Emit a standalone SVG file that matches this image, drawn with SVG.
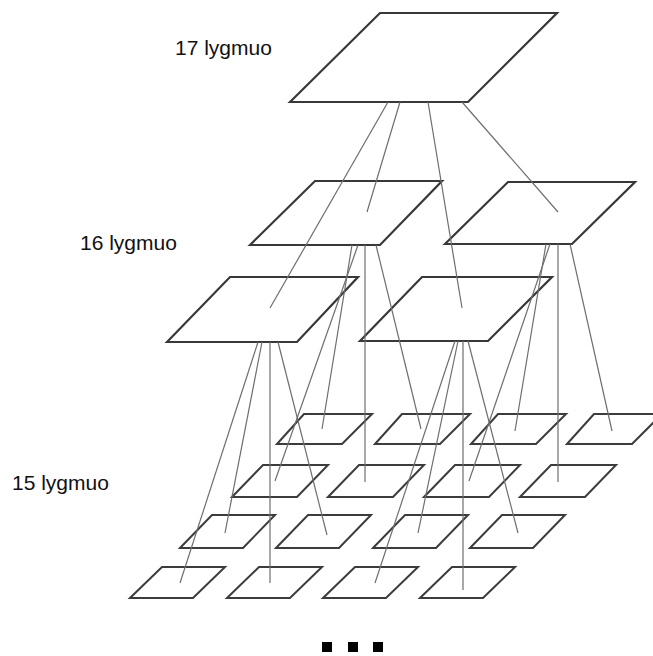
<svg xmlns="http://www.w3.org/2000/svg" width="653" height="656" viewBox="0 0 653 656">
<style>
.p{fill:none;stroke:#383838;stroke-width:2.2;stroke-linejoin:miter}
.s{fill:none;stroke:#3c3c3c;stroke-width:2}
.c line{stroke:#6e6e6e;stroke-width:1.2}
.t{font-family:"Liberation Sans",Arial,sans-serif;font-size:21px;fill:#111}
.d{fill:#000}
</style>
<rect width="653" height="656" fill="#fff"/>
<g id="labels">
<text class="t" x="175" y="55">17 lygmuo</text>
<text class="t" x="80" y="250">16 lygmuo</text>
<text class="t" x="12" y="490">15 lygmuo</text>
</g>
<g id="n17"><polygon class="p" points="290,102 380,13 557,13 468,102"/></g>
<g id="n16a"><polygon class="p" points="250,245 315,181 442,181 380,245"/></g>
<g id="n16b"><polygon class="p" points="445,244 508,182 635,182 572,244"/></g>
<g id="n16c"><polygon class="p" points="167,342 230,277 358,277 297,342"/></g>
<g id="n16d"><polygon class="p" points="360,341 422,277 552,277 488,341"/></g>
<g id="n15">
<polygon id="n15_00" class="s" points="277,444 304,414 372,414 342,444"/>
<polygon id="n15_01" class="s" points="375,444 402,414 470,414 440,444"/>
<polygon id="n15_02" class="s" points="471,444 498,414 566,414 536,444"/>
<polygon id="n15_03" class="s" points="567,444 594,414 662,414 632,444"/>
<polygon id="n15_10" class="s" points="232,497 263,465 328,465 297,497"/>
<polygon id="n15_11" class="s" points="328,497 359,465 424,465 393,497"/>
<polygon id="n15_12" class="s" points="424,497 455,465 520,465 489,497"/>
<polygon id="n15_13" class="s" points="520,497 551,465 616,465 585,497"/>
<polygon id="n15_20" class="s" points="180,548 212,515 275,515 243,548"/>
<polygon id="n15_21" class="s" points="276,548 308,515 371,515 339,548"/>
<polygon id="n15_22" class="s" points="373,548 405,515 468,515 436,548"/>
<polygon id="n15_23" class="s" points="470,548 502,515 565,515 533,548"/>
<polygon id="n15_30" class="s" points="130,598 162,567 225,567 193,598"/>
<polygon id="n15_31" class="s" points="227,598 259,567 322,567 290,598"/>
<polygon id="n15_32" class="s" points="323,598 355,567 418,567 386,598"/>
<polygon id="n15_33" class="s" points="420,598 452,567 515,567 483,598"/>
</g>
<g id="connectors" class="c">
<line x1="388" y1="102" x2="270" y2="308"/>
<line x1="400" y1="102" x2="367" y2="212"/>
<line x1="428" y1="102" x2="462" y2="308"/>
<line x1="462" y1="102" x2="558" y2="212"/>
<line x1="352" y1="245" x2="322" y2="429"/>
<line x1="358" y1="245" x2="275" y2="481"/>
<line x1="365" y1="245" x2="365" y2="482"/>
<line x1="376" y1="245" x2="421" y2="429"/>
<line x1="550" y1="244" x2="469" y2="481"/>
<line x1="546" y1="244" x2="515" y2="431"/>
<line x1="558" y1="244" x2="558" y2="482"/>
<line x1="570" y1="244" x2="612" y2="431"/>
<line x1="258" y1="342" x2="180" y2="583"/>
<line x1="262" y1="342" x2="225" y2="533"/>
<line x1="270" y1="342" x2="270" y2="583"/>
<line x1="278" y1="342" x2="327" y2="535"/>
<line x1="455" y1="341" x2="375" y2="583"/>
<line x1="458" y1="341" x2="418" y2="533"/>
<line x1="463" y1="341" x2="463" y2="590"/>
<line x1="468" y1="341" x2="518" y2="533"/>
</g>
<g id="more">
<rect class="d" x="322" y="642" width="10" height="10"/>
<rect class="d" x="348" y="642" width="10" height="10"/>
<rect class="d" x="373" y="642" width="10" height="10"/>
</g>
</svg>
